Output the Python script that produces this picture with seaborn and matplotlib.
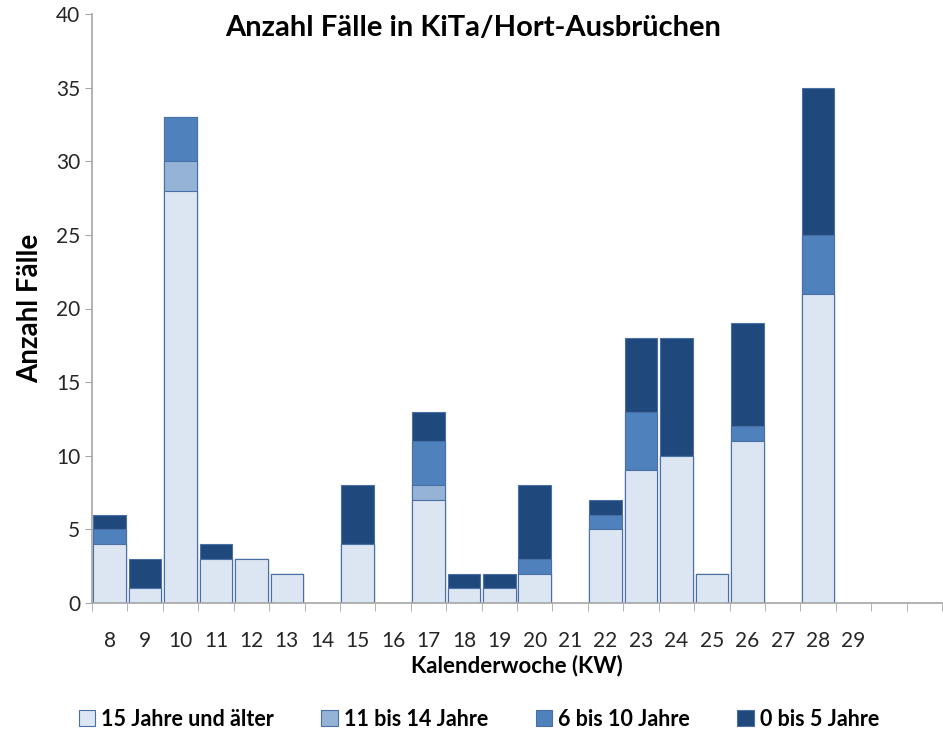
import matplotlib
matplotlib.use('Agg')
import matplotlib.pyplot as plt
from matplotlib.patches import Patch
import seaborn as sns
import pandas as pd
import numpy as np

# Kalenderwochen (zwei leere Plätze am Ende)
weeks = [str(w) for w in range(8, 30)] + ['', ' ']
#            8  9 10 11 12 13 14 15 16 17 18 19 20 21 22 23 24 25 26 27 28 29  -  -
age_15plus = [4, 1, 28, 3, 3, 2, 0, 4, 0, 7, 1, 1, 2, 0, 5, 9, 10, 2, 11, 0, 21, 0, 0, 0]
age_11_14 = [0, 0, 2, 0, 0, 0, 0, 0, 0, 1, 0, 0, 0, 0, 0, 0, 0, 0, 0, 0, 0, 0, 0, 0]
age_6_10 = [1, 0, 3, 0, 0, 0, 0, 0, 0, 3, 0, 0, 1, 0, 1, 4, 0, 0, 1, 0, 4, 0, 0, 0]
age_0_5 = [1, 2, 0, 1, 0, 0, 0, 4, 0, 2, 1, 1, 5, 0, 1, 5, 8, 0, 7, 0, 10, 0, 0, 0]

labels = ['15 Jahre und älter', '11 bis 14 Jahre', '6 bis 10 Jahre', '0 bis 5 Jahre']
colors = ['#DCE6F2', '#95B3D7', '#4F81BD', '#1F497D']
edge = '#4A6FA5'

df = pd.DataFrame({'KW': weeks, 'a': age_15plus, 'b': age_11_14, 'c': age_6_10, 'd': age_0_5})
df['l1'] = df['a']
df['l2'] = df['l1'] + df['b']
df['l3'] = df['l2'] + df['c']
df['l4'] = df['l3'] + df['d']
for col in ['l1', 'l2', 'l3', 'l4']:
    df[col] = df[col].replace(0, np.nan)

plt.rcParams['font.family'] = ['Lato', 'DejaVu Sans']
fig = plt.figure(figsize=(9.43, 7.31), dpi=100)
ax = fig.add_axes([92 / 943, 128 / 731, 1 - 92 / 943 - 0.001, (603 - 14) / 731])

# gestapelt: kumulierte Summen von oben nach unten zeichnen
for col, c in zip(['l4', 'l3', 'l2', 'l1'], colors[::-1]):
    sns.barplot(data=df, x='KW', y=col, order=weeks, color=c, saturation=1,
                width=0.92, edgecolor=edge, linewidth=0.8, ax=ax, errorbar=None)

ax.set_xlim(-0.5, len(weeks) - 0.5)
ax.set_ylim(0, 40)
ax.set_yticks(range(0, 41, 5))
ax.tick_params(axis='y', labelsize=15, length=5, color='#A6A6A6', labelcolor='#262626')
ax.set_xticks(range(len(weeks)))
ax.set_xticklabels(weeks)
ax.tick_params(axis='x', which='major', length=0, labelsize=15, pad=20, labelcolor='#262626')
ax.set_xticks(np.arange(-0.5, len(weeks), 1), minor=True)
ax.tick_params(axis='x', which='minor', length=6, color='#A6A6A6')
for s in ['top', 'right']:
    ax.spines[s].set_visible(False)
for s in ['left', 'bottom']:
    ax.spines[s].set_color('#A6A6A6')
    ax.spines[s].set_linewidth(1.2)

ax.set_xlabel('Kalenderwoche (KW)', fontsize=16, fontweight='bold', labelpad=3)
ax.set_ylabel('')
fig.text(30 / 943, 1 - 308 / 731, 'Anzahl Fälle', rotation=90, fontsize=20,
         fontweight='bold', ha='center', va='center')
fig.text(473 / 943, 1 - 28 / 731, 'Anzahl Fälle in KiTa/Hort-Ausbrüchen', fontsize=21,
         fontweight='bold', ha='center', va='center')

handles = [Patch(facecolor=c, edgecolor=edge, linewidth=0.8) for c in colors]
leg = fig.legend(handles, labels, loc='center', bbox_to_anchor=(479 / 943, 1 - 719 / 731),
                 ncol=4, frameon=False, prop={'size': 15.5, 'weight': 'bold'},
                 handlelength=0.75, handleheight=0.75, handletextpad=0.3, columnspacing=2.2)

fig.savefig('out.png', dpi=100)
